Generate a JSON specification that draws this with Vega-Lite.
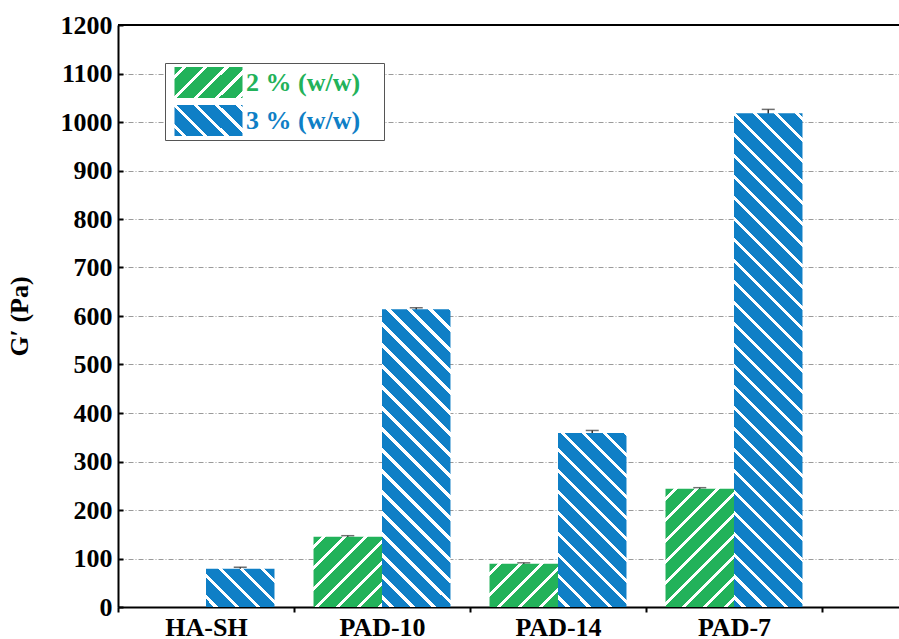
{
  "$schema": "https://vega.github.io/schema/vega-lite/v6.json",
  "width": 781,
  "height": 582,
  "autosize": {"type": "none"},
  "padding": {"left": 118, "top": 25, "right": 0, "bottom": 32},
  "background": "white",
  "config": {"view": {"stroke": null}, "font": "Liberation Serif"},
  "data": {
    "values": [
      {"sample": "HA-SH", "conc": "3 % (w/w)", "gp": 79, "lo": 76, "hi": 82},
      {"sample": "PAD-10", "conc": "2 % (w/w)", "gp": 145, "lo": 143, "hi": 147},
      {"sample": "PAD-10", "conc": "3 % (w/w)", "gp": 614, "lo": 611, "hi": 617},
      {"sample": "PAD-14", "conc": "2 % (w/w)", "gp": 89, "lo": 87, "hi": 91},
      {"sample": "PAD-14", "conc": "3 % (w/w)", "gp": 359, "lo": 354, "hi": 364},
      {"sample": "PAD-7", "conc": "2 % (w/w)", "gp": 244, "lo": 242, "hi": 246},
      {"sample": "PAD-7", "conc": "3 % (w/w)", "gp": 1018, "lo": 1010, "hi": 1026}
    ]
  },
  "layer": [
    {
      "mark": {"type": "rule", "color": "#333333", "strokeWidth": 1.5},
      "encoding": {
        "x": {"field": "sample", "type": "nominal", "title": null, "scale": {"domain": ["HA-SH", "PAD-10", "PAD-14", "PAD-7"], "paddingInner": 0, "paddingOuter": 0.21875, "align": 0},
          "axis": {"title": null, "labelAngle": 0, "tickBand": "extent", "tickSize": 5, "tickWidth": 2, "tickColor": "black", "domainColor": "black", "domainWidth": 2, "labelFont": "Liberation Serif", "labelFontSize": 26, "labelFontWeight": "bold", "labelColor": "black", "labelPadding": 2, "grid": false}},
        "xOffset": {"field": "conc", "type": "nominal", "scale": {"domain": ["2 % (w/w)", "3 % (w/w)"], "paddingInner": 0, "paddingOuter": 0.285}},
        "y": {"field": "lo", "type": "quantitative", "title": "G′ (Pa)", "scale": {"domain": [0, 1200], "nice": false},
          "axis": {
            "title": "G′ (Pa)",
            "format": "d",
            "values": [0, 50, 100, 150, 200, 250, 300, 350, 400, 450, 500, 550, 600, 650, 700, 750, 800, 850, 900, 950, 1000, 1050, 1100, 1150, 1200],
            "labelExpr": "datum.value % 100 === 0 ? datum.label : ''",
            "labelOverlap": false,
            "grid": true,
            "gridColor": {"condition": {"test": "datum.value % 100 === 0", "value": "#9a9a9a"}, "value": "#cfcfcf"},
            "gridDash": {"condition": {"test": "datum.value % 100 === 0", "value": [5, 2, 1, 2]}, "value": [2, 2]},
            "gridWidth": 1,
            "tickSize": -5, "tickWidth": 2, "tickColor": "black",
            "domainColor": "black", "domainWidth": 2,
            "labelFont": "Liberation Serif", "labelFontSize": 26, "labelFontWeight": "bold", "labelColor": "black", "labelPadding": 11,
            "titleFont": "Liberation Serif", "titleFontSize": 26, "titleFontWeight": "bold", "titleColor": "black", "titlePadding": 28
          }},
        "y2": {"field": "hi"}
      }
    },
    {
      "mark": {"type": "tick", "color": "#333333", "thickness": 1.5, "size": 13},
      "encoding": {
        "x": {"field": "sample", "type": "nominal", "title": null, "scale": {"domain": ["HA-SH", "PAD-10", "PAD-14", "PAD-7"], "paddingInner": 0, "paddingOuter": 0.21875, "align": 0}},
        "xOffset": {"field": "conc", "type": "nominal", "scale": {"domain": ["2 % (w/w)", "3 % (w/w)"], "paddingInner": 0, "paddingOuter": 0.285}},
        "y": {"field": "hi", "type": "quantitative", "title": "G′ (Pa)", "scale": {"domain": [0, 1200], "nice": false}}
      }
    },
    {
      "mark": {"type": "bar", "strokeWidth": 0},
      "encoding": {
        "x": {"field": "sample", "type": "nominal", "title": null, "scale": {"domain": ["HA-SH", "PAD-10", "PAD-14", "PAD-7"], "paddingInner": 0, "paddingOuter": 0.21875, "align": 0}},
        "xOffset": {"field": "conc", "type": "nominal", "scale": {"domain": ["2 % (w/w)", "3 % (w/w)"], "paddingInner": 0, "paddingOuter": 0.285}},
        "y": {"field": "gp", "type": "quantitative", "title": "G′ (Pa)", "scale": {"domain": [0, 1200], "nice": false}},
        "fill": {
          "condition": [
            {"test": "datum.sample === 'HA-SH'", "value": {"gradient": "linear", "x1": 0, "y1": 1, "x2": 6.674, "y2": -2.733, "stops": [
              {"offset": 0.01333, "color": "#0f7fc6"}, {"offset": 0.01333, "color": "#fff"}, {"offset": 0.02083, "color": "#fff"}, {"offset": 0.02083, "color": "#0f7fc6"},
              {"offset": 0.04833, "color": "#0f7fc6"}, {"offset": 0.04833, "color": "#fff"}, {"offset": 0.05583, "color": "#fff"}, {"offset": 0.05583, "color": "#0f7fc6"},
              {"offset": 0.08333, "color": "#0f7fc6"}, {"offset": 0.08333, "color": "#fff"}, {"offset": 0.09083, "color": "#fff"}, {"offset": 0.09083, "color": "#0f7fc6"},
              {"offset": 0.11833, "color": "#0f7fc6"}, {"offset": 0.11833, "color": "#fff"}, {"offset": 0.12583, "color": "#fff"}, {"offset": 0.12583, "color": "#0f7fc6"},
              {"offset": 0.15333, "color": "#0f7fc6"}, {"offset": 0.15333, "color": "#fff"}, {"offset": 0.16083, "color": "#fff"}, {"offset": 0.16083, "color": "#0f7fc6"}
            ]}},
            {"test": "datum.sample === 'PAD-10' && datum.conc === '2 % (w/w)'", "value": {"gradient": "linear", "x1": 0, "y1": 0, "x2": 4.266, "y2": 4.379, "stops": [
              {"offset": 0.01333, "color": "#22b25a"}, {"offset": 0.01333, "color": "#fff"}, {"offset": 0.02083, "color": "#fff"}, {"offset": 0.02083, "color": "#22b25a"},
              {"offset": 0.04833, "color": "#22b25a"}, {"offset": 0.04833, "color": "#fff"}, {"offset": 0.05583, "color": "#fff"}, {"offset": 0.05583, "color": "#22b25a"},
              {"offset": 0.08333, "color": "#22b25a"}, {"offset": 0.08333, "color": "#fff"}, {"offset": 0.09083, "color": "#fff"}, {"offset": 0.09083, "color": "#22b25a"},
              {"offset": 0.11833, "color": "#22b25a"}, {"offset": 0.11833, "color": "#fff"}, {"offset": 0.12583, "color": "#fff"}, {"offset": 0.12583, "color": "#22b25a"},
              {"offset": 0.15333, "color": "#22b25a"}, {"offset": 0.15333, "color": "#fff"}, {"offset": 0.16083, "color": "#fff"}, {"offset": 0.16083, "color": "#22b25a"},
              {"offset": 0.18833, "color": "#22b25a"}, {"offset": 0.18833, "color": "#fff"}, {"offset": 0.19583, "color": "#fff"}, {"offset": 0.19583, "color": "#22b25a"},
              {"offset": 0.22333, "color": "#22b25a"}, {"offset": 0.22333, "color": "#fff"}, {"offset": 0.23083, "color": "#fff"}, {"offset": 0.23083, "color": "#22b25a"}
            ]}},
            {"test": "datum.sample === 'PAD-10'", "value": {"gradient": "linear", "x1": 0, "y1": 1, "x2": 0.44004, "y2": -0.9136, "stops": [
              {"offset": 0.01333, "color": "#0f7fc6"}, {"offset": 0.01333, "color": "#fff"}, {"offset": 0.02083, "color": "#fff"}, {"offset": 0.02083, "color": "#0f7fc6"},
              {"offset": 0.04833, "color": "#0f7fc6"}, {"offset": 0.04833, "color": "#fff"}, {"offset": 0.05583, "color": "#fff"}, {"offset": 0.05583, "color": "#0f7fc6"},
              {"offset": 0.08333, "color": "#0f7fc6"}, {"offset": 0.08333, "color": "#fff"}, {"offset": 0.09083, "color": "#fff"}, {"offset": 0.09083, "color": "#0f7fc6"},
              {"offset": 0.11833, "color": "#0f7fc6"}, {"offset": 0.11833, "color": "#fff"}, {"offset": 0.12583, "color": "#fff"}, {"offset": 0.12583, "color": "#0f7fc6"},
              {"offset": 0.15333, "color": "#0f7fc6"}, {"offset": 0.15333, "color": "#fff"}, {"offset": 0.16083, "color": "#fff"}, {"offset": 0.16083, "color": "#0f7fc6"},
              {"offset": 0.18833, "color": "#0f7fc6"}, {"offset": 0.18833, "color": "#fff"}, {"offset": 0.19583, "color": "#fff"}, {"offset": 0.19583, "color": "#0f7fc6"},
              {"offset": 0.22333, "color": "#0f7fc6"}, {"offset": 0.22333, "color": "#fff"}, {"offset": 0.23083, "color": "#fff"}, {"offset": 0.23083, "color": "#0f7fc6"},
              {"offset": 0.25833, "color": "#0f7fc6"}, {"offset": 0.25833, "color": "#fff"}, {"offset": 0.26583, "color": "#fff"}, {"offset": 0.26583, "color": "#0f7fc6"},
              {"offset": 0.29333, "color": "#0f7fc6"}, {"offset": 0.29333, "color": "#fff"}, {"offset": 0.30083, "color": "#fff"}, {"offset": 0.30083, "color": "#0f7fc6"},
              {"offset": 0.32833, "color": "#0f7fc6"}, {"offset": 0.32833, "color": "#fff"}, {"offset": 0.33583, "color": "#fff"}, {"offset": 0.33583, "color": "#0f7fc6"},
              {"offset": 0.36333, "color": "#0f7fc6"}, {"offset": 0.36333, "color": "#fff"}, {"offset": 0.37083, "color": "#fff"}, {"offset": 0.37083, "color": "#0f7fc6"},
              {"offset": 0.39833, "color": "#0f7fc6"}, {"offset": 0.39833, "color": "#fff"}, {"offset": 0.40583, "color": "#fff"}, {"offset": 0.40583, "color": "#0f7fc6"},
              {"offset": 0.43333, "color": "#0f7fc6"}, {"offset": 0.43333, "color": "#fff"}, {"offset": 0.44083, "color": "#fff"}, {"offset": 0.44083, "color": "#0f7fc6"},
              {"offset": 0.46833, "color": "#0f7fc6"}, {"offset": 0.46833, "color": "#fff"}, {"offset": 0.47583, "color": "#fff"}, {"offset": 0.47583, "color": "#0f7fc6"},
              {"offset": 0.50333, "color": "#0f7fc6"}, {"offset": 0.50333, "color": "#fff"}, {"offset": 0.51083, "color": "#fff"}, {"offset": 0.51083, "color": "#0f7fc6"},
              {"offset": 0.53833, "color": "#0f7fc6"}, {"offset": 0.53833, "color": "#fff"}, {"offset": 0.54583, "color": "#fff"}, {"offset": 0.54583, "color": "#0f7fc6"},
              {"offset": 0.57333, "color": "#0f7fc6"}, {"offset": 0.57333, "color": "#fff"}, {"offset": 0.58083, "color": "#fff"}, {"offset": 0.58083, "color": "#0f7fc6"},
              {"offset": 0.60833, "color": "#0f7fc6"}, {"offset": 0.60833, "color": "#fff"}, {"offset": 0.61583, "color": "#fff"}, {"offset": 0.61583, "color": "#0f7fc6"}
            ]}},
            {"test": "datum.sample === 'PAD-14' && datum.conc === '2 % (w/w)'", "value": {"gradient": "linear", "x1": 0, "y1": 0, "x2": 6.2675, "y2": 3.9538, "stops": [
              {"offset": 0.01333, "color": "#22b25a"}, {"offset": 0.01333, "color": "#fff"}, {"offset": 0.02083, "color": "#fff"}, {"offset": 0.02083, "color": "#22b25a"},
              {"offset": 0.04833, "color": "#22b25a"}, {"offset": 0.04833, "color": "#fff"}, {"offset": 0.05583, "color": "#fff"}, {"offset": 0.05583, "color": "#22b25a"},
              {"offset": 0.08333, "color": "#22b25a"}, {"offset": 0.08333, "color": "#fff"}, {"offset": 0.09083, "color": "#fff"}, {"offset": 0.09083, "color": "#22b25a"},
              {"offset": 0.11833, "color": "#22b25a"}, {"offset": 0.11833, "color": "#fff"}, {"offset": 0.12583, "color": "#fff"}, {"offset": 0.12583, "color": "#22b25a"},
              {"offset": 0.15333, "color": "#22b25a"}, {"offset": 0.15333, "color": "#fff"}, {"offset": 0.16083, "color": "#fff"}, {"offset": 0.16083, "color": "#22b25a"}
            ]}},
            {"test": "datum.sample === 'PAD-14'", "value": {"gradient": "linear", "x1": 0, "y1": 1, "x2": 1.17395, "y2": -1.9846, "stops": [
              {"offset": 0.01333, "color": "#0f7fc6"}, {"offset": 0.01333, "color": "#fff"}, {"offset": 0.02083, "color": "#fff"}, {"offset": 0.02083, "color": "#0f7fc6"},
              {"offset": 0.04833, "color": "#0f7fc6"}, {"offset": 0.04833, "color": "#fff"}, {"offset": 0.05583, "color": "#fff"}, {"offset": 0.05583, "color": "#0f7fc6"},
              {"offset": 0.08333, "color": "#0f7fc6"}, {"offset": 0.08333, "color": "#fff"}, {"offset": 0.09083, "color": "#fff"}, {"offset": 0.09083, "color": "#0f7fc6"},
              {"offset": 0.11833, "color": "#0f7fc6"}, {"offset": 0.11833, "color": "#fff"}, {"offset": 0.12583, "color": "#fff"}, {"offset": 0.12583, "color": "#0f7fc6"},
              {"offset": 0.15333, "color": "#0f7fc6"}, {"offset": 0.15333, "color": "#fff"}, {"offset": 0.16083, "color": "#fff"}, {"offset": 0.16083, "color": "#0f7fc6"},
              {"offset": 0.18833, "color": "#0f7fc6"}, {"offset": 0.18833, "color": "#fff"}, {"offset": 0.19583, "color": "#fff"}, {"offset": 0.19583, "color": "#0f7fc6"},
              {"offset": 0.22333, "color": "#0f7fc6"}, {"offset": 0.22333, "color": "#fff"}, {"offset": 0.23083, "color": "#fff"}, {"offset": 0.23083, "color": "#0f7fc6"},
              {"offset": 0.25833, "color": "#0f7fc6"}, {"offset": 0.25833, "color": "#fff"}, {"offset": 0.26583, "color": "#fff"}, {"offset": 0.26583, "color": "#0f7fc6"},
              {"offset": 0.29333, "color": "#0f7fc6"}, {"offset": 0.29333, "color": "#fff"}, {"offset": 0.30083, "color": "#fff"}, {"offset": 0.30083, "color": "#0f7fc6"},
              {"offset": 0.32833, "color": "#0f7fc6"}, {"offset": 0.32833, "color": "#fff"}, {"offset": 0.33583, "color": "#fff"}, {"offset": 0.33583, "color": "#0f7fc6"},
              {"offset": 0.36333, "color": "#0f7fc6"}, {"offset": 0.36333, "color": "#fff"}, {"offset": 0.37083, "color": "#fff"}, {"offset": 0.37083, "color": "#0f7fc6"},
              {"offset": 0.39833, "color": "#0f7fc6"}, {"offset": 0.39833, "color": "#fff"}, {"offset": 0.40583, "color": "#fff"}, {"offset": 0.40583, "color": "#0f7fc6"}
            ]}},
            {"test": "datum.sample === 'PAD-7' && datum.conc === '2 % (w/w)'", "value": {"gradient": "linear", "x1": 0, "y1": 0, "x2": 2.19903, "y2": 3.79885, "stops": [
              {"offset": 0.01333, "color": "#22b25a"}, {"offset": 0.01333, "color": "#fff"}, {"offset": 0.02083, "color": "#fff"}, {"offset": 0.02083, "color": "#22b25a"},
              {"offset": 0.04833, "color": "#22b25a"}, {"offset": 0.04833, "color": "#fff"}, {"offset": 0.05583, "color": "#fff"}, {"offset": 0.05583, "color": "#22b25a"},
              {"offset": 0.08333, "color": "#22b25a"}, {"offset": 0.08333, "color": "#fff"}, {"offset": 0.09083, "color": "#fff"}, {"offset": 0.09083, "color": "#22b25a"},
              {"offset": 0.11833, "color": "#22b25a"}, {"offset": 0.11833, "color": "#fff"}, {"offset": 0.12583, "color": "#fff"}, {"offset": 0.12583, "color": "#22b25a"},
              {"offset": 0.15333, "color": "#22b25a"}, {"offset": 0.15333, "color": "#fff"}, {"offset": 0.16083, "color": "#fff"}, {"offset": 0.16083, "color": "#22b25a"},
              {"offset": 0.18833, "color": "#22b25a"}, {"offset": 0.18833, "color": "#fff"}, {"offset": 0.19583, "color": "#fff"}, {"offset": 0.19583, "color": "#22b25a"},
              {"offset": 0.22333, "color": "#22b25a"}, {"offset": 0.22333, "color": "#fff"}, {"offset": 0.23083, "color": "#fff"}, {"offset": 0.23083, "color": "#22b25a"},
              {"offset": 0.25833, "color": "#22b25a"}, {"offset": 0.25833, "color": "#fff"}, {"offset": 0.26583, "color": "#fff"}, {"offset": 0.26583, "color": "#22b25a"},
              {"offset": 0.29333, "color": "#22b25a"}, {"offset": 0.29333, "color": "#fff"}, {"offset": 0.30083, "color": "#fff"}, {"offset": 0.30083, "color": "#22b25a"}
            ]}},
            {"test": "datum.sample === 'PAD-7'", "value": {"gradient": "linear", "x1": 0, "y1": 1, "x2": 0.16539, "y2": -0.19238, "stops": [
              {"offset": 0.01333, "color": "#0f7fc6"}, {"offset": 0.01333, "color": "#fff"}, {"offset": 0.02083, "color": "#fff"}, {"offset": 0.02083, "color": "#0f7fc6"},
              {"offset": 0.04833, "color": "#0f7fc6"}, {"offset": 0.04833, "color": "#fff"}, {"offset": 0.05583, "color": "#fff"}, {"offset": 0.05583, "color": "#0f7fc6"},
              {"offset": 0.08333, "color": "#0f7fc6"}, {"offset": 0.08333, "color": "#fff"}, {"offset": 0.09083, "color": "#fff"}, {"offset": 0.09083, "color": "#0f7fc6"},
              {"offset": 0.11833, "color": "#0f7fc6"}, {"offset": 0.11833, "color": "#fff"}, {"offset": 0.12583, "color": "#fff"}, {"offset": 0.12583, "color": "#0f7fc6"},
              {"offset": 0.15333, "color": "#0f7fc6"}, {"offset": 0.15333, "color": "#fff"}, {"offset": 0.16083, "color": "#fff"}, {"offset": 0.16083, "color": "#0f7fc6"},
              {"offset": 0.18833, "color": "#0f7fc6"}, {"offset": 0.18833, "color": "#fff"}, {"offset": 0.19583, "color": "#fff"}, {"offset": 0.19583, "color": "#0f7fc6"},
              {"offset": 0.22333, "color": "#0f7fc6"}, {"offset": 0.22333, "color": "#fff"}, {"offset": 0.23083, "color": "#fff"}, {"offset": 0.23083, "color": "#0f7fc6"},
              {"offset": 0.25833, "color": "#0f7fc6"}, {"offset": 0.25833, "color": "#fff"}, {"offset": 0.26583, "color": "#fff"}, {"offset": 0.26583, "color": "#0f7fc6"},
              {"offset": 0.29333, "color": "#0f7fc6"}, {"offset": 0.29333, "color": "#fff"}, {"offset": 0.30083, "color": "#fff"}, {"offset": 0.30083, "color": "#0f7fc6"},
              {"offset": 0.32833, "color": "#0f7fc6"}, {"offset": 0.32833, "color": "#fff"}, {"offset": 0.33583, "color": "#fff"}, {"offset": 0.33583, "color": "#0f7fc6"},
              {"offset": 0.36333, "color": "#0f7fc6"}, {"offset": 0.36333, "color": "#fff"}, {"offset": 0.37083, "color": "#fff"}, {"offset": 0.37083, "color": "#0f7fc6"},
              {"offset": 0.39833, "color": "#0f7fc6"}, {"offset": 0.39833, "color": "#fff"}, {"offset": 0.40583, "color": "#fff"}, {"offset": 0.40583, "color": "#0f7fc6"},
              {"offset": 0.43333, "color": "#0f7fc6"}, {"offset": 0.43333, "color": "#fff"}, {"offset": 0.44083, "color": "#fff"}, {"offset": 0.44083, "color": "#0f7fc6"},
              {"offset": 0.46833, "color": "#0f7fc6"}, {"offset": 0.46833, "color": "#fff"}, {"offset": 0.47583, "color": "#fff"}, {"offset": 0.47583, "color": "#0f7fc6"},
              {"offset": 0.50333, "color": "#0f7fc6"}, {"offset": 0.50333, "color": "#fff"}, {"offset": 0.51083, "color": "#fff"}, {"offset": 0.51083, "color": "#0f7fc6"},
              {"offset": 0.53833, "color": "#0f7fc6"}, {"offset": 0.53833, "color": "#fff"}, {"offset": 0.54583, "color": "#fff"}, {"offset": 0.54583, "color": "#0f7fc6"},
              {"offset": 0.57333, "color": "#0f7fc6"}, {"offset": 0.57333, "color": "#fff"}, {"offset": 0.58083, "color": "#fff"}, {"offset": 0.58083, "color": "#0f7fc6"},
              {"offset": 0.60833, "color": "#0f7fc6"}, {"offset": 0.60833, "color": "#fff"}, {"offset": 0.61583, "color": "#fff"}, {"offset": 0.61583, "color": "#0f7fc6"},
              {"offset": 0.64333, "color": "#0f7fc6"}, {"offset": 0.64333, "color": "#fff"}, {"offset": 0.65083, "color": "#fff"}, {"offset": 0.65083, "color": "#0f7fc6"},
              {"offset": 0.67833, "color": "#0f7fc6"}, {"offset": 0.67833, "color": "#fff"}, {"offset": 0.68583, "color": "#fff"}, {"offset": 0.68583, "color": "#0f7fc6"},
              {"offset": 0.71333, "color": "#0f7fc6"}, {"offset": 0.71333, "color": "#fff"}, {"offset": 0.72083, "color": "#fff"}, {"offset": 0.72083, "color": "#0f7fc6"},
              {"offset": 0.74833, "color": "#0f7fc6"}, {"offset": 0.74833, "color": "#fff"}, {"offset": 0.75583, "color": "#fff"}, {"offset": 0.75583, "color": "#0f7fc6"},
              {"offset": 0.78333, "color": "#0f7fc6"}, {"offset": 0.78333, "color": "#fff"}, {"offset": 0.79083, "color": "#fff"}, {"offset": 0.79083, "color": "#0f7fc6"},
              {"offset": 0.81833, "color": "#0f7fc6"}, {"offset": 0.81833, "color": "#fff"}, {"offset": 0.82583, "color": "#fff"}, {"offset": 0.82583, "color": "#0f7fc6"},
              {"offset": 0.85333, "color": "#0f7fc6"}, {"offset": 0.85333, "color": "#fff"}, {"offset": 0.86083, "color": "#fff"}, {"offset": 0.86083, "color": "#0f7fc6"},
              {"offset": 0.88833, "color": "#0f7fc6"}, {"offset": 0.88833, "color": "#fff"}, {"offset": 0.89583, "color": "#fff"}, {"offset": 0.89583, "color": "#0f7fc6"},
              {"offset": 0.92333, "color": "#0f7fc6"}, {"offset": 0.92333, "color": "#fff"}, {"offset": 0.93083, "color": "#fff"}, {"offset": 0.93083, "color": "#0f7fc6"}
            ]}}
          ],
          "value": "#888888"
        }
      }
    },
    {
      "mark": {
        "type": "point", "opacity": 0, "filled": true,
        "fill": {"expr": "datum.value === '2 % (w/w)' ? {gradient: 'linear', x1: 0, y1: 0, x2: 7.3052, y2: 3.3303, stops: [{offset: 0.01333, color: '#22b25a'}, {offset: 0.01333, color: '#fff'}, {offset: 0.02083, color: '#fff'}, {offset: 0.02083, color: '#22b25a'}, {offset: 0.04833, color: '#22b25a'}, {offset: 0.04833, color: '#fff'}, {offset: 0.05583, color: '#fff'}, {offset: 0.05583, color: '#22b25a'}, {offset: 0.08333, color: '#22b25a'}, {offset: 0.08333, color: '#fff'}, {offset: 0.09083, color: '#fff'}, {offset: 0.09083, color: '#22b25a'}, {offset: 0.11833, color: '#22b25a'}, {offset: 0.11833, color: '#fff'}, {offset: 0.12583, color: '#fff'}, {offset: 0.12583, color: '#22b25a'}, {offset: 0.15333, color: '#22b25a'}, {offset: 0.15333, color: '#fff'}, {offset: 0.16083, color: '#fff'}, {offset: 0.16083, color: '#22b25a'}]} : {gradient: 'linear', x1: 0, y1: 1, x2: 7.3052, y2: -2.3303, stops: [{offset: 0.01333, color: '#0f7fc6'}, {offset: 0.01333, color: '#fff'}, {offset: 0.02083, color: '#fff'}, {offset: 0.02083, color: '#0f7fc6'}, {offset: 0.04833, color: '#0f7fc6'}, {offset: 0.04833, color: '#fff'}, {offset: 0.05583, color: '#fff'}, {offset: 0.05583, color: '#0f7fc6'}, {offset: 0.08333, color: '#0f7fc6'}, {offset: 0.08333, color: '#fff'}, {offset: 0.09083, color: '#fff'}, {offset: 0.09083, color: '#0f7fc6'}, {offset: 0.11833, color: '#0f7fc6'}, {offset: 0.11833, color: '#fff'}, {offset: 0.12583, color: '#fff'}, {offset: 0.12583, color: '#0f7fc6'}, {offset: 0.15333, color: '#0f7fc6'}, {offset: 0.15333, color: '#fff'}, {offset: 0.16083, color: '#fff'}, {offset: 0.16083, color: '#0f7fc6'}]}"}
      },
      "encoding": {
        "x": {"field": "sample", "type": "nominal", "title": null, "scale": {"domain": ["HA-SH", "PAD-10", "PAD-14", "PAD-7"], "paddingInner": 0, "paddingOuter": 0.21875, "align": 0}},
        "xOffset": {"field": "conc", "type": "nominal", "scale": {"domain": ["2 % (w/w)", "3 % (w/w)"], "paddingInner": 0, "paddingOuter": 0.285}},
        "y": {"field": "gp", "type": "quantitative", "title": "G′ (Pa)", "scale": {"domain": [0, 1200], "nice": false}},
        "stroke": {
          "field": "conc", "type": "nominal",
          "scale": {"domain": ["2 % (w/w)", "3 % (w/w)"], "range": ["#22b25a", "#0f7fc6"]},
          "legend": {
            "orient": "none", "legendX": 47, "legendY": 38, "title": null,
            "strokeColor": "#555555", "fillColor": "white", "padding": 4,
            "symbolType": "M-2.194,-1L2.194,-1L2.194,1L-2.194,1Z",
            "symbolSize": 961, "symbolStrokeWidth": 0, "symbolOffset": 24, "symbolOpacity": 1,
            "labelFont": "Liberation Serif", "labelFontSize": 26, "labelFontWeight": "bold", "labelOffset": 22,
            "labelColor": {"expr": "datum.value === '2 % (w/w)' ? '#22b25a' : '#0f7fc6'"},
            "labelExpr": "datum.label + '\u2800'",
            "rowPadding": 7
          }
        }
      }
    },
    {
      "mark": {"type": "rule", "color": "black", "strokeWidth": 2},
      "encoding": {"y": {"datum": 1200, "type": "quantitative", "title": "G′ (Pa)", "scale": {"domain": [0, 1200], "nice": false}}}
    }
  ]
}
